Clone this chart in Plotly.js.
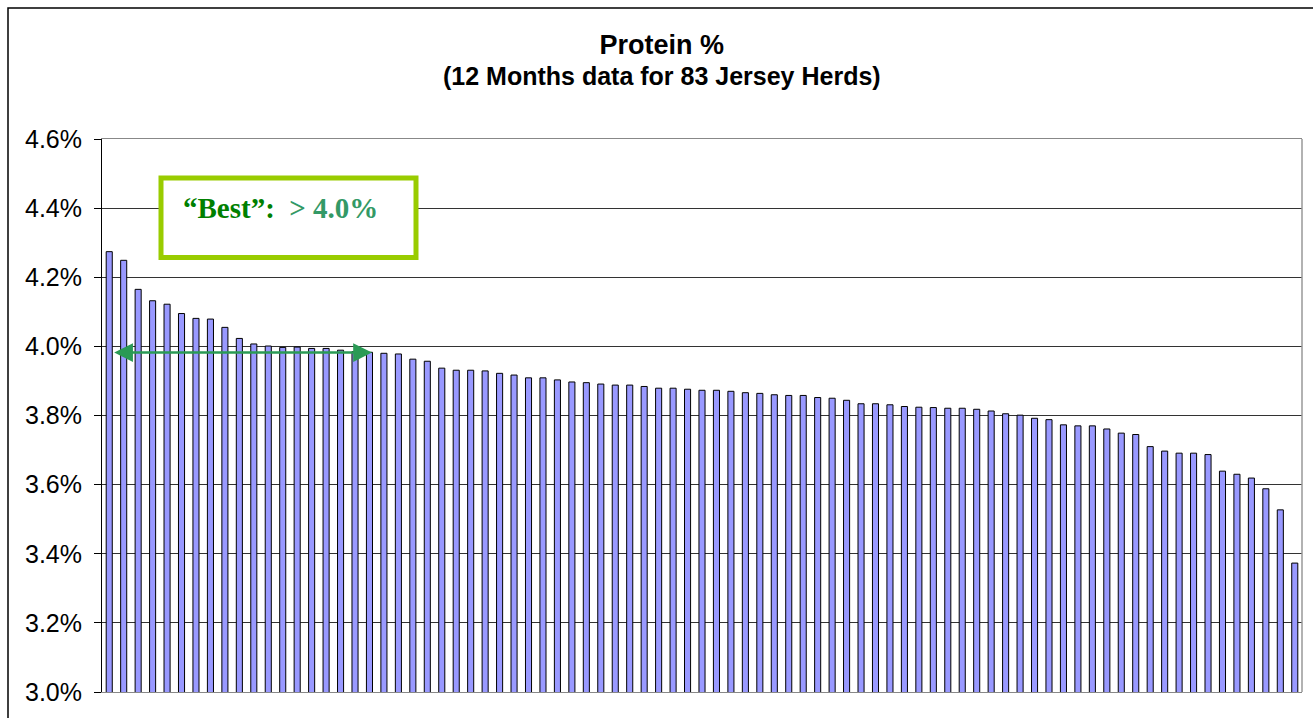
<!DOCTYPE html>
<html>
<head>
<meta charset="utf-8">
<script src="https://cdn.plot.ly/plotly-3.0.1.min.js"></script>
<style>
  html, body { margin: 0; padding: 0; background: #fff; }
  #chart { width: 1313px; height: 718px; }
</style>
</head>
<body>
<div id="chart"></div>
<script>
// protein % per herd, sorted high to low
const proteinPct = [
  4.274, 4.249, 4.165, 4.132, 4.122, 4.095, 4.081, 4.079, 4.055, 4.023,
  4.007, 4.001, 3.997, 3.998, 3.994, 3.994, 3.989, 3.985, 3.983, 3.980,
  3.978, 3.963, 3.957, 3.937, 3.931, 3.931, 3.929, 3.922, 3.917, 3.909,
  3.909, 3.903, 3.897, 3.895, 3.891, 3.888, 3.888, 3.884, 3.879, 3.879,
  3.876, 3.873, 3.873, 3.870, 3.866, 3.864, 3.860, 3.858, 3.858, 3.852,
  3.850, 3.844, 3.834, 3.834, 3.831, 3.826, 3.824, 3.823, 3.821, 3.821,
  3.818, 3.813, 3.805, 3.801, 3.792, 3.788, 3.773, 3.770, 3.770, 3.761,
  3.749, 3.745, 3.710, 3.697, 3.691, 3.691, 3.687, 3.639, 3.630, 3.619,
  3.588, 3.527, 3.373,
];
const herds = proteinPct.map((_, i) => i + 1);

const yTicks = [3.0, 3.2, 3.4, 3.6, 3.8, 4.0, 4.2, 4.4, 4.6];
const yTickLabels = ["3.0%", "3.2%", "3.4%", "3.6%", "3.8%", "4.0%", "4.2%", "4.4%", "4.6%"];

const titleText = "Protein %";
const subtitleText = "(12 Months data for 83 Jersey Herds)";
const bestLabel = "“Best”:";
const bestValue = "&gt; 4.0%";

// the "best" range arrow spans these herds at this level
const arrowFrom = 1.24;
const arrowTo = 19.17;
const arrowLevel = 3.982;

const chart = document.getElementById("chart");

const trace = {
  type: "bar",
  x: herds,
  y: proteinPct,
  marker: {
    color: "#9999ff",
    line: { color: "#000", width: 1 },
  },
  hoverinfo: "y",
};

const layout = {
  width: 1313,
  height: 718,
  margin: { l: 102, r: 11, t: 139, b: 26, pad: 0 },
  paper_bgcolor: "#fff",
  plot_bgcolor: "#fff",
  showlegend: false,
  bargap: 0.58,
  font: { family: "Liberation Sans, Arial, sans-serif", color: "#000" },
  title: {
    text: "<b>" + titleText + "</b>",
    font: { size: 27, family: "Liberation Sans, Arial, sans-serif", color: "#000" },
    x: 0.504,
    xanchor: "center",
    y: 1 - 45 / 718,
    yanchor: "middle",
  },
  xaxis: {
    range: [0.5, 83.5],
    showticklabels: false,
    ticks: "",
    showgrid: false,
    zeroline: false,
    showline: true,
    linecolor: "#888",
    linewidth: 1,
    mirror: true,
    fixedrange: true,
  },
  yaxis: {
    range: [3.0, 4.6],
    tickvals: yTicks,
    ticktext: yTickLabels,
    ticks: "outside",
    ticklen: 7,
    tickcolor: "#000",
    ticklabelstandoff: 7,
    tickfont: { size: 25, color: "#000" },
    showgrid: true,
    gridcolor: "#333",
    gridwidth: 1,
    zeroline: false,
    showline: true,
    linecolor: "#000",
    linewidth: 1,
    fixedrange: true,
  },
  shapes: [
    // outer chart frame (cut off on right and bottom)
    {
      type: "rect", xref: "paper", yref: "paper",
      x0: -94 / 1200, x1: 1.2, y0: -0.3, y1: 684 / 553,
      line: { color: "#000", width: 1.5 },
    },
    // right edge of plot area
    {
      type: "line", xref: "paper", yref: "paper",
      x0: 1, x1: 1, y0: 0, y1: 1,
      line: { color: "#999", width: 1.5 },
    },
    // "Best" box
    {
      type: "rect", xref: "paper", yref: "paper", layer: "above",
      x0: 59 / 1200, x1: 314 / 1200, y0: 434.5 / 553, y1: 514 / 553,
      fillcolor: "#fff",
      line: { color: "#99cc00", width: 5 },
    },
  ],
  annotations: [
    {
      xref: "paper", yref: "paper",
      x: 560 / 1200, y: 616 / 553,
      xanchor: "center", yanchor: "middle",
      text: "<b>" + subtitleText + "</b>",
      showarrow: false,
      font: { size: 25, family: "Liberation Sans, Arial, sans-serif", color: "#000" },
    },
    {
      xref: "paper", yref: "paper",
      x: 79 / 1200, y: 484 / 553,
      xanchor: "left", yanchor: "middle",
      text: '<b><span style="color:#008000">' + bestLabel + '</span>&nbsp;&nbsp;<span style="color:#339966">' + bestValue + "</span></b>",
      showarrow: false,
      font: { size: 29, family: "Liberation Serif, Times New Roman, serif" },
    },
    {
      xref: "x", yref: "y", axref: "x", ayref: "y",
      x: arrowTo, y: arrowLevel,
      ax: arrowFrom, ay: arrowLevel,
      text: "",
      showarrow: true,
      arrowside: "end+start",
      arrowhead: 2,
      startarrowhead: 2,
      arrowsize: 1.5,
      startarrowsize: 1.5,
      arrowwidth: 2.5,
      arrowcolor: "#2a9a55",
      standoff: 0,
      startstandoff: 0,
    },
  ],
};

const config = { responsive: false, displayModeBar: false, staticPlot: true };

Plotly.newPlot(chart, [trace], layout, config);
</script>
</body>
</html>
